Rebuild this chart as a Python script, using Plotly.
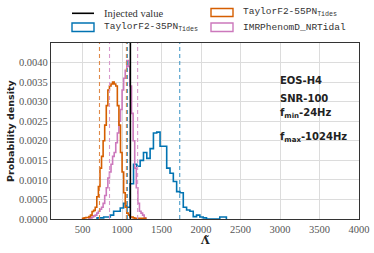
import plotly.graph_objects as go

# ---------------- data ----------------
# TaylorF2-55PN_Tides (orange) histogram: bin start edge (width 20) and densities
orange_start = 500
orange_width = 20
orange_vals = [0.00002, 0.00003, 0.00004, 0.00004, 0.00006, 0.0001, 0.00019, 0.00022,
               0.0003, 0.00057, 0.00083, 0.0013, 0.0016, 0.0020, 0.0024, 0.0029,
               0.0033, 0.0034, 0.00345, 0.0035, 0.00345, 0.0034, 0.0029, 0.0024,
               0.0017, 0.0012, 0.00067, 0.0003, 0.00015, 0.0001, 0.00005, 0.00005,
               0.00003, 0.00002, 0.00002, 0.00002, 0.00002, 0.00002, 0.00002, 0.00002]

# IMRPhenomD_NRTidal (pink)
pink_start = 580
pink_width = 20
pink_vals = [0.00002, 0.00003, 0.00005, 0.00008, 0.0001, 0.00015, 0.0002, 0.00025,
             0.0003, 0.0004, 0.0006, 0.0008, 0.00105, 0.0012, 0.0014, 0.0016,
             0.0017, 0.00195, 0.0022, 0.0025, 0.0028, 0.0033, 0.0036, 0.0038,
             0.00405, 0.0039, 0.0034, 0.0027, 0.0020, 0.0013, 0.0008, 0.0004,
             0.0002, 0.00015, 0.0001, 0.00003]

# TaylorF2-35PN_Tides (blue)
blue_start = 683
blue_width = 42
blue_vals = [0.00003, 0.00003, 0.00005, 0.00005, 0.0001, 0.0002, 0.0002, 0.00028,
             0.0004, 0.0003, 0.0009, 0.0014, 0.00135, 0.0015, 0.0017, 0.00155,
             0.0018, 0.0022, 0.00222, 0.00186, 0.00186, 0.0013, 0.00117, 0.00096,
             0.0007, 0.00067, 0.0003, 0.00023, 0.0002, 0.00006, 0.0001, 0.00005,
             0.00003, 0.0, 0.0, 0.0, 0.0, 0.00005, 0.00005]

injected_value = 1105
orange_bounds = [714, 1055]
pink_bounds = [841, 1197]
blue_bounds = [1068, 1730]

x_ticks = [500, 1000, 1500, 2000, 2500, 3000, 3500, 4000]
y_ticks = [0.0, 0.0005, 0.001, 0.0015, 0.002, 0.0025, 0.003, 0.0035, 0.004]
y_tick_text = ["0.0000", "0.0005", "0.0010", "0.0015", "0.0020", "0.0025",
               "0.0030", "0.0035", "0.0040"]

info_lines = ["EOS-H4", "SNR-100", "f<sub>min</sub>-24Hz", "f<sub>max</sub>-1024Hz"]

BLUE = "#0173B2"
ORANGE = "#D55E00"
PINK = "#CC78BC"
BLUE_D = "#4a9cc9"
ORANGE_D = "#e08a4a"
PINK_D = "#d99acc"


def step_xy(start, width, vals):
    edges = [start + i * width for i in range(len(vals) + 1)]
    xs = [edges[0]] + edges
    ys = [0] + list(vals) + [0]
    return xs, ys


fig = go.Figure()
for (start, width, vals, col, name) in [
    (blue_start, blue_width, blue_vals, BLUE, "TaylorF2-35PN"),
    (pink_start, pink_width, pink_vals, PINK, "IMRPhenomD_NRTidal"),
    (orange_start, orange_width, orange_vals, ORANGE, "TaylorF2-55PN"),
]:
    xs, ys = step_xy(start, width, vals)
    fig.add_trace(go.Scatter(x=xs, y=ys, mode="lines", line=dict(color=col, width=1.6, shape="hv"),
                             name=name, showlegend=False, hoverinfo="skip"))

for bounds, col in [(orange_bounds, ORANGE_D), (pink_bounds, PINK_D), (blue_bounds, BLUE_D)]:
    for b in bounds:
        fig.add_vline(x=b, line=dict(color=col, width=1.1, dash="4px,3px"))

fig.add_vline(x=injected_value, line=dict(color="black", width=1.6))

# ---- manual legend (paper coords) ----
def px_x(p):
    return (p - 51) / 308.0


def px_y(p):
    return (219 - p) / 176.0


fig.add_shape(type="line", xref="paper", yref="paper", x0=px_x(72), x1=px_x(94),
              y0=px_y(13.3), y1=px_y(13.3), line=dict(color="black", width=1.6))
fig.add_shape(type="rect", xref="paper", yref="paper", x0=px_x(72), x1=px_x(94),
              y0=px_y(23), y1=px_y(31.5), line=dict(color=BLUE, width=1.4), fillcolor="white")
fig.add_shape(type="rect", xref="paper", yref="paper", x0=px_x(211), x1=px_x(233),
              y0=px_y(8.5), y1=px_y(16.5), line=dict(color=ORANGE, width=1.4), fillcolor="white")
fig.add_shape(type="rect", xref="paper", yref="paper", x0=px_x(211), x1=px_x(233),
              y0=px_y(23), y1=px_y(31.5), line=dict(color=PINK, width=1.4), fillcolor="white")

legend_font_serif = dict(family="Liberation Serif", size=10.5, color="#333")
legend_font_mono = dict(family="Liberation Mono", size=9.5, color="#333")
leg = [
    (102, 13.3, "Injected value", legend_font_serif),
    (102, 27.5, "TaylorF2-35PN<sub>Tides</sub>", legend_font_mono),
    (241, 12.5, "TaylorF2-55PN<sub>Tides</sub>", legend_font_mono),
    (241, 27.5, "IMRPhenomD_NRTidal", legend_font_mono),
]
for x, y, t, f in leg:
    fig.add_annotation(xref="paper", yref="paper", x=px_x(x), y=px_y(y), text=t,
                       showarrow=False, xanchor="left", yanchor="middle", font=f)

# info text
info_y = [80, 98.5, 113.5, 137]
for t, y in zip(info_lines, info_y):
    fig.add_annotation(xref="paper", yref="paper", x=px_x(278), y=px_y(y), text="<b>" + t + "</b>",
                       showarrow=False, xanchor="left", yanchor="middle",
                       font=dict(family="DejaVu Sans", size=10, color="#222"))

# axis titles as annotations (fixed positions)
fig.add_annotation(xref="paper", yref="paper", x=px_x(10), y=px_y(131), text="<b>Probability density</b>",
                   textangle=-90, showarrow=False, xanchor="center", yanchor="middle",
                   font=dict(family="DejaVu Sans", size=9.5, color="#222"))
fig.add_annotation(xref="paper", yref="paper", x=px_x(205), y=px_y(240), text="<b>Λ̃</b>",
                   showarrow=False, xanchor="center", yanchor="middle",
                   font=dict(family="DejaVu Serif", size=11, color="#222"))

fig.update_layout(
    width=374, height=253,
    margin=dict(l=51, r=15, t=43, b=34),
    paper_bgcolor="white", plot_bgcolor="white",
    showlegend=False,
    xaxis=dict(range=[100, 4000], tickvals=x_ticks, showgrid=True, gridcolor="#dcdcdc", gridwidth=1,
               showline=True, linecolor="#333", linewidth=1.3, mirror=True, zeroline=False,
               ticks="", automargin=False,
               tickfont=dict(family="Liberation Serif", size=10.5, color="#555")),
    yaxis=dict(range=[0, 0.0045], tickvals=y_ticks, ticktext=y_tick_text, showgrid=True,
               gridcolor="#dcdcdc", gridwidth=1, showline=True, linecolor="#333", linewidth=1.3,
               mirror=True, zeroline=False, ticks="", automargin=False,
               tickfont=dict(family="Liberation Serif", size=10.5, color="#555")),
)

fig.write_html("out.html", config={"displayModeBar": False},
               post_script="document.body.style.margin='0';document.body.style.overflow='hidden';")
